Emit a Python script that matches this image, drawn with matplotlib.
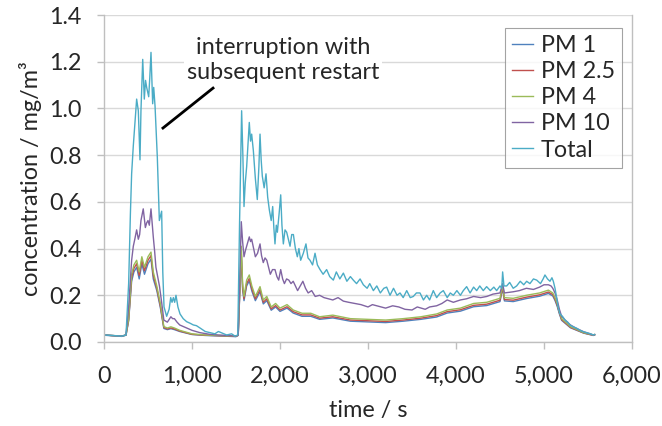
import matplotlib
matplotlib.use("Agg")
import matplotlib.pyplot as plt

plt.rcParams["font.family"] = ["Lato", "DejaVu Sans"]

# Total particle concentration (time s, mg/m3)
TOTAL = [
    (0, 0.03), (100, 0.028), (200, 0.025), (250, 0.03),
    (280, 0.25), (300, 0.55), (314, 0.72), (333, 0.84), (350, 0.93), (371, 1.04),
    (390, 0.99), (409, 0.78), (420, 0.99), (440, 1.21), (458, 1.04), (472, 1.12),
    (485, 1.09), (508, 1.05), (520, 1.13), (534, 1.24), (553, 1.02), (565, 1.09),
    (580, 1.01), (606, 0.79), (629, 0.52), (655, 0.56), (668, 0.30), (682, 0.15),
    (712, 0.11), (740, 0.14), (758, 0.19), (773, 0.17), (788, 0.19), (803, 0.17),
    (818, 0.20), (840, 0.15), (864, 0.12), (900, 0.10), (939, 0.087), (980, 0.08),
    (1015, 0.073), (1050, 0.07), (1091, 0.06), (1150, 0.045), (1205, 0.04),
    (1260, 0.035), (1300, 0.045), (1394, 0.03), (1450, 0.035), (1489, 0.025),
    (1520, 0.03),
    (1540, 0.5), (1564, 0.99), (1578, 0.8), (1591, 0.58), (1605, 0.68), (1621, 0.75),
    (1637, 0.85), (1651, 0.94), (1665, 0.86), (1678, 0.89), (1697, 0.82), (1720, 0.70),
    (1742, 0.61), (1760, 0.75), (1773, 0.89), (1786, 0.78), (1799, 0.71), (1820, 0.66),
    (1841, 0.72), (1860, 0.62), (1879, 0.565), (1900, 0.52), (1917, 0.58), (1930, 0.49),
    (1943, 0.42), (1958, 0.50), (1970, 0.47), (1990, 0.55), (2008, 0.63), (2022, 0.50),
    (2038, 0.42), (2057, 0.48), (2076, 0.47), (2095, 0.44), (2114, 0.41), (2133, 0.46),
    (2152, 0.46), (2175, 0.40), (2197, 0.365), (2215, 0.40), (2235, 0.35), (2265, 0.38),
    (2295, 0.42), (2318, 0.36), (2341, 0.35), (2370, 0.33), (2398, 0.38), (2425, 0.33),
    (2455, 0.31), (2490, 0.29), (2530, 0.31), (2565, 0.28), (2606, 0.265), (2640, 0.30),
    (2680, 0.27), (2720, 0.295), (2760, 0.26), (2800, 0.28), (2833, 0.265), (2870, 0.25),
    (2910, 0.27), (2947, 0.245), (2990, 0.23), (3020, 0.25), (3061, 0.22), (3100, 0.24),
    (3140, 0.21), (3180, 0.23), (3212, 0.235), (3250, 0.20), (3290, 0.23), (3330, 0.20),
    (3364, 0.21), (3400, 0.19), (3440, 0.22), (3480, 0.19), (3515, 0.195), (3550, 0.21),
    (3591, 0.21), (3630, 0.18), (3667, 0.20), (3700, 0.18), (3742, 0.22), (3780, 0.19),
    (3820, 0.21), (3856, 0.22), (3900, 0.19), (3935, 0.21), (3970, 0.20), (4010, 0.22),
    (4050, 0.20), (4083, 0.22), (4121, 0.237), (4160, 0.21), (4200, 0.235), (4235, 0.22),
    (4270, 0.24), (4310, 0.22), (4348, 0.237), (4390, 0.22), (4430, 0.235), (4462, 0.22),
    (4500, 0.24), (4520, 0.23), (4530, 0.30), (4545, 0.24), (4576, 0.24), (4610, 0.255),
    (4650, 0.23), (4689, 0.24), (4730, 0.26), (4770, 0.245), (4803, 0.26), (4840, 0.25),
    (4880, 0.27), (4917, 0.265), (4960, 0.25), (4990, 0.27), (5011, 0.287), (5040, 0.27),
    (5068, 0.26), (5090, 0.275), (5106, 0.26), (5125, 0.23), (5144, 0.19), (5160, 0.15),
    (5182, 0.12), (5210, 0.11), (5239, 0.094), (5270, 0.085), (5295, 0.073), (5330, 0.065),
    (5371, 0.059), (5410, 0.05), (5447, 0.044), (5500, 0.038), (5530, 0.035), (5561, 0.03),
    (5575, 0.032),
]

PM10 = [
    (0, 0.03), (200, 0.025), (250, 0.03), (280, 0.15), (314, 0.35), (333, 0.41),
    (350, 0.44), (371, 0.48), (390, 0.44), (405, 0.46), (420, 0.52), (446, 0.57),
    (458, 0.53), (470, 0.49), (485, 0.51), (500, 0.52), (515, 0.50), (534, 0.57),
    (547, 0.51), (560, 0.45), (575, 0.39), (590, 0.32), (610, 0.28), (630, 0.24),
    (655, 0.17), (680, 0.094), (720, 0.085), (760, 0.108), (780, 0.10), (800, 0.10),
    (830, 0.085), (860, 0.073), (940, 0.06), (1000, 0.05), (1090, 0.04), (1200, 0.033),
    (1300, 0.03), (1400, 0.028), (1500, 0.025), (1525, 0.03),
    (1545, 0.30), (1560, 0.515), (1575, 0.43), (1591, 0.365), (1606, 0.39), (1621, 0.41),
    (1636, 0.43), (1651, 0.45), (1665, 0.43), (1678, 0.44), (1700, 0.40), (1720, 0.365),
    (1745, 0.38), (1773, 0.42), (1790, 0.37), (1810, 0.34), (1830, 0.36), (1850, 0.35),
    (1870, 0.32), (1890, 0.29), (1915, 0.31), (1943, 0.31), (1965, 0.28), (1985, 0.265),
    (2008, 0.31), (2030, 0.27), (2050, 0.25), (2075, 0.27), (2100, 0.265), (2125, 0.25),
    (2150, 0.26), (2175, 0.24), (2200, 0.22), (2230, 0.24), (2260, 0.26), (2290, 0.23),
    (2320, 0.21), (2360, 0.22), (2400, 0.195), (2450, 0.20), (2500, 0.19), (2550, 0.185),
    (2600, 0.18), (2660, 0.19), (2720, 0.175), (2780, 0.17), (2850, 0.165), (2920, 0.16),
    (3000, 0.15), (3050, 0.16), (3100, 0.155), (3150, 0.15), (3200, 0.145), (3280, 0.155),
    (3350, 0.15), (3420, 0.14), (3500, 0.137), (3560, 0.15), (3650, 0.14), (3700, 0.15),
    (3780, 0.155), (3840, 0.165), (3900, 0.18), (3970, 0.17), (4050, 0.18), (4120, 0.185),
    (4200, 0.195), (4280, 0.19), (4350, 0.195), (4420, 0.205), (4500, 0.21), (4530, 0.25),
    (4550, 0.21), (4650, 0.215), (4720, 0.22), (4800, 0.23), (4880, 0.225), (4950, 0.235),
    (5000, 0.245), (5050, 0.245), (5080, 0.24), (5100, 0.23), (5125, 0.21), (5150, 0.18),
    (5175, 0.14), (5200, 0.11), (5250, 0.09), (5300, 0.073), (5370, 0.058), (5450, 0.044),
    (5500, 0.038), (5560, 0.03), (5575, 0.032),
]

# fine fractions share one time base
T_PM = [0, 200, 250, 280, 314, 340, 371, 400, 430, 460, 500, 534, 560, 600, 640, 680,
        720, 760, 800, 860, 1000, 1150, 1300, 1500, 1525, 1545, 1560, 1575, 1591, 1621,
        1651, 1680, 1720, 1773, 1810, 1850, 1900, 1950, 2000, 2080, 2150, 2250, 2350,
        2450, 2600, 2800, 3000, 3200, 3400, 3600, 3780, 3900, 4050, 4200, 4350, 4500,
        4530, 4550, 4650, 4800, 4950, 5050, 5100, 5125, 5150, 5175, 5200, 5300, 5450,
        5560, 5575]
PM4 = [0.03, 0.025, 0.03, 0.10, 0.29, 0.33, 0.35, 0.30, 0.365, 0.32, 0.365, 0.385, 0.30,
       0.24, 0.165, 0.066, 0.06, 0.065, 0.06, 0.05, 0.035, 0.03, 0.028, 0.025, 0.03, 0.25,
       0.41, 0.25, 0.195, 0.265, 0.287, 0.24, 0.195, 0.237, 0.18, 0.195, 0.15, 0.165,
       0.145, 0.16, 0.137, 0.123, 0.123, 0.108, 0.115, 0.10, 0.097, 0.094, 0.10, 0.108,
       0.12, 0.137, 0.145, 0.165, 0.17, 0.187, 0.244, 0.19, 0.187, 0.20, 0.21, 0.222,
       0.21, 0.19, 0.165, 0.13, 0.10, 0.066, 0.04, 0.03, 0.032]
PM25 = [0.03, 0.025, 0.03, 0.095, 0.275, 0.315, 0.335, 0.285, 0.35, 0.305, 0.35, 0.37,
        0.285, 0.23, 0.155, 0.062, 0.056, 0.06, 0.056, 0.047, 0.033, 0.029, 0.027, 0.024,
        0.029, 0.24, 0.39, 0.235, 0.185, 0.25, 0.272, 0.228, 0.185, 0.225, 0.17, 0.185,
        0.142, 0.156, 0.137, 0.151, 0.13, 0.116, 0.116, 0.102, 0.108, 0.094, 0.091, 0.088,
        0.094, 0.102, 0.113, 0.13, 0.138, 0.157, 0.162, 0.179, 0.236, 0.182, 0.179, 0.192,
        0.202, 0.214, 0.203, 0.183, 0.158, 0.125, 0.096, 0.063, 0.039, 0.029, 0.031]
PM1 = [0.029, 0.024, 0.029, 0.09, 0.26, 0.30, 0.32, 0.27, 0.335, 0.29, 0.335, 0.355, 0.27,
       0.22, 0.148, 0.058, 0.053, 0.057, 0.053, 0.045, 0.032, 0.028, 0.026, 0.023, 0.028,
       0.23, 0.375, 0.225, 0.177, 0.24, 0.262, 0.218, 0.177, 0.215, 0.163, 0.177, 0.136,
       0.15, 0.131, 0.145, 0.124, 0.11, 0.11, 0.097, 0.103, 0.089, 0.086, 0.083, 0.089,
       0.097, 0.107, 0.124, 0.132, 0.151, 0.156, 0.173, 0.23, 0.176, 0.173, 0.186, 0.196,
       0.208, 0.197, 0.178, 0.153, 0.12, 0.093, 0.061, 0.038, 0.028, 0.03]

X_TICKS = [0, 1000, 2000, 3000, 4000, 5000, 6000]
Y_TICKS = [0.0, 0.2, 0.4, 0.6, 0.8, 1.0, 1.2, 1.4]

GRID = "#d9d9d9"
AXC = "#bfbfbf"
TXT = "#262626"
FS = 16.8

fig = plt.figure(figsize=(6.62, 4.26), dpi=100)
ax = fig.add_axes([104 / 662, 1 - 342 / 426, 528 / 662, 327 / 426])

ax.plot(T_PM, PM1, color="#4f81bd", lw=1.0, label="PM 1")
ax.plot(T_PM, PM25, color="#c0504d", lw=1.0, label="PM 2.5")
ax.plot(T_PM, PM4, color="#9bbb59", lw=1.0, label="PM 4")
ax.plot([t for t, _ in PM10], [v for _, v in PM10], color="#8064a2", lw=1.0, label="PM 10")
ax.plot([t for t, _ in TOTAL], [v for _, v in TOTAL], color="#4bacc6", lw=1.0, label="Total")

ax.set_xlim(0, 6000)
ax.set_ylim(0, 1.4)
ax.set_xticks(X_TICKS)
ax.set_xticklabels([f"{x:,}" for x in X_TICKS])
ax.set_yticks(Y_TICKS)
ax.set_yticklabels([f"{y:.1f}" for y in Y_TICKS])
ax.grid(axis="y", color=GRID, lw=1.0)
ax.set_axisbelow(True)
for s in ("left", "bottom", "right"):
    ax.spines[s].set_color(AXC)
    ax.spines[s].set_linewidth(1.0)
ax.spines["top"].set_visible(False)
ax.tick_params(axis="both", colors=AXC, labelcolor=TXT, labelsize=FS, length=5, width=1.0)
ax.tick_params(axis="y", pad=11)
ax.tick_params(axis="x", pad=12)

ax.set_xlabel("time / s", fontsize=FS, color=TXT, labelpad=10)
ax.set_ylabel("concentration / mg/m³", fontsize=FS, color=TXT, labelpad=5)

leg = ax.legend(loc="upper right", bbox_to_anchor=(622 / 662, 1 - 28 / 426),
                bbox_transform=fig.transFigure, fontsize=FS, frameon=True, fancybox=False,
                borderaxespad=0, handlelength=0.9, handletextpad=0.35, borderpad=0.3,
                labelspacing=0.22)
leg.get_frame().set_edgecolor("#8c8c8c")
leg.get_frame().set_linewidth(0.8)
for t in leg.get_texts():
    t.set_color(TXT)

ax.text(2034, 1.207, "interruption with\nsubsequent restart", fontsize=FS, color=TXT,
        ha="center", va="center", linespacing=1.2,
        bbox=dict(facecolor="white", edgecolor="none", pad=2))
ax.plot([670, 1239], [0.916, 1.087], color="black", lw=2)

fig.savefig("out.png", dpi=100)
